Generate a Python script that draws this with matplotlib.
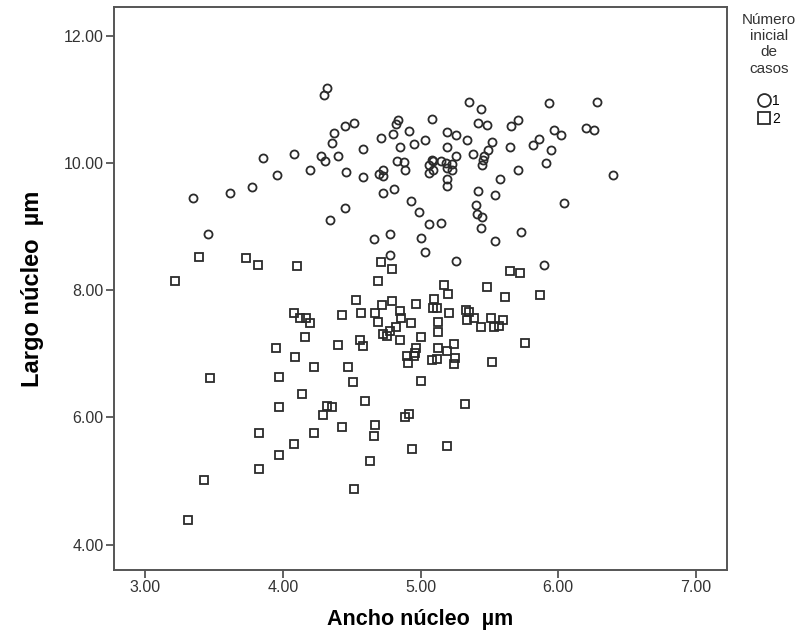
# Dispersión: ancho x largo del núcleo, por número inicial de casos
import numpy as np
import matplotlib.pyplot as plt

plt.rcParams['font.family'] = ['Liberation Sans', 'DejaVu Sans']

# Grupo 1 (círculos)
ancho_1 = [4.32, 4.30, 4.45, 4.37, 4.355, 3.86, 4.08, 4.28, 4.31, 4.40, 4.46, 4.20, 3.96, 3.78, 3.62, 3.35, 4.45, 4.34, 3.46,
           5.35, 5.44, 4.52, 4.84, 4.82, 5.08, 5.42, 5.48, 4.71, 4.80, 4.92, 5.19, 5.26, 5.335, 4.58, 4.85, 4.95, 5.03, 5.19,
           5.52, 5.49, 5.38, 5.255, 5.46, 5.455, 5.45, 4.83, 4.88, 4.89, 5.08, 5.09, 5.15, 5.185, 5.23, 5.06, 5.19, 5.23,
           5.06, 5.09, 4.58, 4.70, 4.73, 4.73, 5.19, 5.19, 4.73, 4.81, 4.93, 4.99, 5.06, 5.15, 5.415, 5.54, 5.405, 5.41,
           5.45, 5.44, 5.54, 4.66, 4.78, 5.00, 5.03, 4.78, 5.26, 5.58,
           5.93, 6.28, 5.71, 5.655, 5.97, 6.02, 6.20, 6.26, 5.65, 5.86, 5.82, 5.95, 5.91, 5.706, 6.40, 6.04, 5.73, 5.90]
largo_1 = [11.18, 11.07, 10.58, 10.47, 10.32, 10.09, 10.14, 10.11, 10.04, 10.12, 9.86, 9.89, 9.81, 9.63, 9.54, 9.46, 9.29, 9.11, 8.88,
           10.96, 10.85, 10.63, 10.68, 10.62, 10.70, 10.64, 10.61, 10.40, 10.46, 10.51, 10.50, 10.45, 10.36, 10.22, 10.25,
           10.30, 10.36, 10.25, 10.34, 10.21, 10.15, 10.12, 10.11, 10.06, 9.97, 10.03, 10.02, 9.90, 10.06, 10.03, 10.03,
           10.01, 9.99, 9.98, 9.93, 9.89, 9.84, 9.90, 9.79, 9.83, 9.89, 9.80, 9.75, 9.64, 9.54, 9.59, 9.40, 9.23, 9.04,
           9.06, 9.56, 9.50, 9.35, 9.21, 9.16, 8.99, 8.78, 8.81, 8.88, 8.82, 8.60, 8.56, 8.47, 9.76,
           10.95, 10.96, 10.68, 10.59, 10.53, 10.44, 10.56, 10.53, 10.26, 10.38, 10.29, 10.21, 10.01, 9.90, 9.82, 9.38, 8.92, 8.40]

# Grupo 2 (cuadrados)
ancho_2 = [3.39, 3.73, 3.82, 4.10, 3.22,
           4.71, 4.795, 4.69, 5.65, 5.72, 5.485, 5.61, 5.17, 5.20, 4.53, 4.79, 4.72, 4.97, 5.10, 5.09, 5.12, 4.57, 4.67,
           4.85, 5.21, 5.33, 5.35, 5.335, 5.39, 5.51, 5.60, 5.44, 5.53, 5.57, 4.69, 4.86, 4.93, 4.82, 4.78, 4.73, 4.76,
           5.125, 5.13, 5.00, 4.85, 4.56, 4.58, 5.13, 5.24, 5.19, 4.97, 4.96, 4.90, 4.95, 4.91, 5.08, 5.12, 5.25, 5.24,
           5.52, 5.76, 5.87, 4.47, 4.51, 5.00, 4.60, 5.32, 4.89, 4.92, 4.67, 4.66,
           4.08, 4.125, 4.17, 4.20, 4.43, 4.16, 4.40, 3.95, 4.09, 4.23, 3.47, 3.975, 4.14, 3.97, 4.32, 4.355, 4.29, 4.43,
           3.83, 4.23, 4.08, 3.975, 3.825, 3.43, 3.31, 4.63, 4.52, 4.94, 5.19]
largo_2 = [8.53, 8.51, 8.40, 8.39, 8.15,
           8.45, 8.34, 8.15, 8.31, 8.28, 8.06, 7.90, 8.08, 7.95, 7.85, 7.84, 7.77, 7.78, 7.86, 7.73, 7.73, 7.64, 7.65,
           7.68, 7.64, 7.69, 7.66, 7.54, 7.57, 7.57, 7.54, 7.43, 7.42, 7.44, 7.50, 7.56, 7.49, 7.43, 7.36, 7.32, 7.28,
           7.50, 7.35, 7.27, 7.22, 7.22, 7.13, 7.09, 7.16, 7.04, 7.09, 7.02, 6.96, 6.97, 6.85, 6.91, 6.92, 6.93, 6.84,
           6.87, 7.18, 7.93, 6.79, 6.56, 6.57, 6.26, 6.22, 6.00, 6.05, 5.88, 5.71,
           7.65, 7.57, 7.57, 7.49, 7.61, 7.27, 7.14, 7.10, 6.95, 6.79, 6.62, 6.64, 6.37, 6.17, 6.18, 6.17, 6.04, 5.85,
           5.75, 5.75, 5.58, 5.41, 5.19, 5.01, 4.39, 5.31, 4.88, 5.51, 5.55]

xticks = [3, 4, 5, 6, 7]
yticks = [4, 6, 8, 10, 12]

fig = plt.figure(figsize=(8.11, 6.38), dpi=100)
ax = fig.add_axes([0.1406, 0.1066, 0.7558, 0.8824])

cor = '#2b2b2b'
ax.plot(ancho_1, largo_1, 'o', ms=5.8, mfc='none', mec=cor, mew=1.3, label='1', linestyle='none')
ax.plot(ancho_2, largo_2, 's', ms=5.5, mfc='none', mec=cor, mew=1.3, label='2', linestyle='none')

ax.set_xlim(2.775, 7.225)
ax.set_ylim(3.6, 12.46)
ax.set_xticks(xticks)
ax.set_yticks(yticks)
ax.set_xticklabels(['%.2f' % v for v in xticks])
ax.set_yticklabels(['%.2f' % v for v in yticks])
ax.tick_params(direction='out', length=6, width=1.3, color='#555555', labelsize=11.5,
               labelcolor='#333333', pad=1.5)
for s in ax.spines.values():
    s.set_color('#555555')
    s.set_linewidth(1.4)

ax.set_xlabel('Ancho núcleo  µm', fontsize=15.5, fontweight='bold', labelpad=10)
ax.set_ylabel('Largo núcleo  µm', fontsize=17, fontweight='bold', labelpad=14)

# leyenda fuera del eje
leg = fig.legend(loc='upper center', bbox_to_anchor=(0.948, 0.995), frameon=False,
                 title='Número\ninicial\nde\ncasos', fontsize=10, title_fontsize=11,
                 handlelength=0.8, handletextpad=0.2, labelspacing=0.3, borderpad=0.2,
                 markerscale=1.6)
leg.get_title().set_multialignment('center')
leg.get_title().set_color('#333333')
leg._legend_box.sep = 13

fig.savefig('out.png', dpi=100)
